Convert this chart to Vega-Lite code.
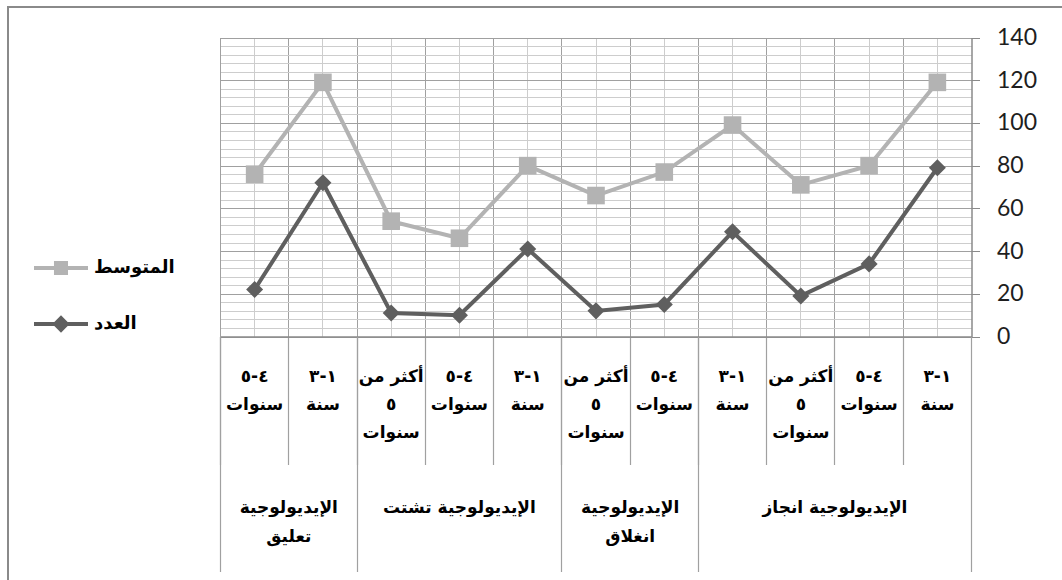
{
  "$schema": "https://vega.github.io/schema/vega-lite/v6.json",
  "width": 1070,
  "height": 590,
  "autosize": {"type": "none"},
  "padding": {"left": 8, "top": 7, "right": -16, "bottom": -17},
  "background": "#ffffff",
  "config": {
    "view": {"stroke": "#8a8a8a", "strokeWidth": 2},
    "axis": {"labelColor": "#000000"}
  },
  "data": {
    "values": [
      {"cat": "01|٤-٥|سنوات", "group": "الإيديولوجية تعليق", "series": "المتوسط", "value": 76},
      {"cat": "02|١-٣|سنة", "group": "الإيديولوجية تعليق", "series": "المتوسط", "value": 119},
      {"cat": "03|أكثر من|٥|سنوات", "group": "الإيديولوجية تشتت", "series": "المتوسط", "value": 54},
      {"cat": "04|٤-٥|سنوات", "group": "الإيديولوجية تشتت", "series": "المتوسط", "value": 46},
      {"cat": "05|١-٣|سنة", "group": "الإيديولوجية تشتت", "series": "المتوسط", "value": 80},
      {"cat": "06|أكثر من|٥|سنوات", "group": "الإيديولوجية انغلاق", "series": "المتوسط", "value": 66},
      {"cat": "07|٤-٥|سنوات", "group": "الإيديولوجية انغلاق", "series": "المتوسط", "value": 77},
      {"cat": "08|١-٣|سنة", "group": "الإيديولوجية انجاز", "series": "المتوسط", "value": 99},
      {"cat": "09|أكثر من|٥|سنوات", "group": "الإيديولوجية انجاز", "series": "المتوسط", "value": 71},
      {"cat": "10|٤-٥|سنوات", "group": "الإيديولوجية انجاز", "series": "المتوسط", "value": 80},
      {"cat": "11|١-٣|سنة", "group": "الإيديولوجية انجاز", "series": "المتوسط", "value": 119},
      {"cat": "01|٤-٥|سنوات", "group": "الإيديولوجية تعليق", "series": "العدد", "value": 22},
      {"cat": "02|١-٣|سنة", "group": "الإيديولوجية تعليق", "series": "العدد", "value": 72},
      {"cat": "03|أكثر من|٥|سنوات", "group": "الإيديولوجية تشتت", "series": "العدد", "value": 11},
      {"cat": "04|٤-٥|سنوات", "group": "الإيديولوجية تشتت", "series": "العدد", "value": 10},
      {"cat": "05|١-٣|سنة", "group": "الإيديولوجية تشتت", "series": "العدد", "value": 41},
      {"cat": "06|أكثر من|٥|سنوات", "group": "الإيديولوجية انغلاق", "series": "العدد", "value": 12},
      {"cat": "07|٤-٥|سنوات", "group": "الإيديولوجية انغلاق", "series": "العدد", "value": 15},
      {"cat": "08|١-٣|سنة", "group": "الإيديولوجية انجاز", "series": "العدد", "value": 49},
      {"cat": "09|أكثر من|٥|سنوات", "group": "الإيديولوجية انجاز", "series": "العدد", "value": 19},
      {"cat": "10|٤-٥|سنوات", "group": "الإيديولوجية انجاز", "series": "العدد", "value": 34},
      {"cat": "11|١-٣|سنة", "group": "الإيديولوجية انجاز", "series": "العدد", "value": 79}
    ]
  },
  "layer": [
    {
      "transform": [{"filter": {"field": "series", "equal": "المتوسط"}}],
      "mark": {"type": "line", "strokeWidth": 4, "color": "#b3b3b3"},
      "encoding": {
        "x": {
          "field": "cat", "type": "ordinal",
          "scale": {"type": "band", "domain": ["01|٤-٥|سنوات", "02|١-٣|سنة", "03|أكثر من|٥|سنوات", "04|٤-٥|سنوات", "05|١-٣|سنة", "06|أكثر من|٥|سنوات", "07|٤-٥|سنوات", "08|١-٣|سنة", "09|أكثر من|٥|سنوات", "10|٤-٥|سنوات", "11|١-٣|سنة"], "range": [212.5, 963.5], "paddingInner": 0, "paddingOuter": 0},
          "axis": {
            "orient": "top", "offset": 0, "title": null, "bandPosition": 0,
            "labels": false, "ticks": false, "domain": false,
            "grid": true, "gridColor": "#a0a0a0", "gridWidth": 1
          }
        },
        "y": {
          "field": "value", "type": "quantitative",
          "scale": {"domain": [0, 140], "range": [329.5, 30.5], "nice": false, "zero": true},
          "axis": {
            "orient": "left", "offset": 0, "title": null,
            "values": [0, 20, 40, 60, 80, 100, 120, 140],
            "labels": false, "ticks": false, "domain": false,
            "grid": true, "gridColor": "#a0a0a0", "gridWidth": 1
          }
        }
      }
    },
    {
      "transform": [{"filter": {"field": "series", "equal": "العدد"}}],
      "mark": {"type": "line", "strokeWidth": 4, "color": "#5f5f5f"},
      "encoding": {
        "x": {
          "field": "cat", "type": "ordinal",
          "scale": {"type": "band", "domain": ["01|٤-٥|سنوات", "02|١-٣|سنة", "03|أكثر من|٥|سنوات", "04|٤-٥|سنوات", "05|١-٣|سنة", "06|أكثر من|٥|سنوات", "07|٤-٥|سنوات", "08|١-٣|سنة", "09|أكثر من|٥|سنوات", "10|٤-٥|سنوات", "11|١-٣|سنة"], "range": [212.5, 963.5], "paddingInner": 0, "paddingOuter": 0},
          "axis": {
            "orient": "top", "offset": 0, "title": null, "bandPosition": 0.5,
            "labels": false, "ticks": false, "domain": false,
            "grid": true, "gridColor": "#cdcdcd", "gridWidth": 1
          }
        },
        "y": {
          "field": "value", "type": "quantitative",
          "scale": {"domain": [0, 140], "range": [329.5, 30.5], "nice": false, "zero": true},
          "axis": {
            "orient": "left", "offset": 0, "title": null,
            "values": [4, 8, 12, 16, 24, 28, 32, 36, 44, 48, 52, 56, 64, 68, 72, 76, 84, 88, 92, 96, 104, 108, 112, 116, 124, 128, 132, 136],
            "labels": false, "ticks": false, "domain": false,
            "grid": true, "gridColor": "#cdcdcd", "gridWidth": 1
          }
        }
      }
    },
    {
      "transform": [{"filter": {"field": "series", "equal": "المتوسط"}}],
      "mark": {"type": "point", "shape": "square", "filled": true, "opacity": 1, "size": 310, "color": "#b3b3b3"},
      "encoding": {
        "x": {
          "field": "cat", "type": "ordinal",
          "scale": {"type": "band", "domain": ["01|٤-٥|سنوات", "02|١-٣|سنة", "03|أكثر من|٥|سنوات", "04|٤-٥|سنوات", "05|١-٣|سنة", "06|أكثر من|٥|سنوات", "07|٤-٥|سنوات", "08|١-٣|سنة", "09|أكثر من|٥|سنوات", "10|٤-٥|سنوات", "11|١-٣|سنة"], "range": [212.5, 963.5], "paddingInner": 0, "paddingOuter": 0},
          "axis": {
            "orient": "bottom", "offset": -260.5, "title": null, "bandPosition": 0,
            "labels": false, "grid": false,
            "domain": true, "domainColor": "#8a8a8a", "domainWidth": 1.5,
            "ticks": true, "tickSize": 128, "tickColor": "#a0a0a0", "tickWidth": 1.2
          }
        },
        "y": {
          "field": "value", "type": "quantitative",
          "scale": {"domain": [0, 140], "range": [329.5, 30.5], "nice": false, "zero": true},
          "axis": {
            "orient": "right", "offset": -106.5, "title": null,
            "values": [0, 20, 40, 60, 80, 100, 120, 140],
            "grid": false,
            "domain": true, "domainColor": "#8a8a8a", "domainWidth": 1.5,
            "ticks": true, "tickSize": 8, "tickColor": "#8a8a8a",
            "labelFont": "Lato", "labelFontSize": 23, "labelColor": "#1e1e1e", "labelPadding": 17
          }
        }
      }
    },
    {
      "transform": [{"filter": {"field": "series", "equal": "العدد"}}],
      "mark": {"type": "point", "shape": "diamond", "filled": true, "opacity": 1, "size": 290, "color": "#5f5f5f"},
      "encoding": {
        "x": {
          "field": "cat", "type": "ordinal",
          "scale": {"type": "band", "domain": ["01|٤-٥|سنوات", "02|١-٣|سنة", "03|أكثر من|٥|سنوات", "04|٤-٥|سنوات", "05|١-٣|سنة", "06|أكثر من|٥|سنوات", "07|٤-٥|سنوات", "08|١-٣|سنة", "09|أكثر من|٥|سنوات", "10|٤-٥|سنوات", "11|١-٣|سنة"], "range": [212.5, 963.5], "paddingInner": 0, "paddingOuter": 0},
          "axis": {
            "orient": "bottom", "offset": -260.5, "title": null, "bandPosition": 0.5,
            "ticks": false, "domain": false, "grid": false,
            "labelExpr": "slice(split(datum.value, '|'), 1)",
            "labelAngle": 0, "labelAlign": "center", "labelBaseline": "top",
            "labelPadding": 32, "labelLineHeight": 28, "labelLimit": 300, "labelOverlap": false,
            "labelFont": "DejaVu Sans", "labelFontWeight": "bold", "labelFontSize": 17
          }
        },
        "y": {
          "field": "value", "type": "quantitative",
          "scale": {"domain": [0, 140], "range": [329.5, 30.5], "nice": false, "zero": true},
          "axis": null
        }
      }
    },
    {
      "mark": {"type": "point", "opacity": 0},
      "encoding": {
        "x": {
          "field": "cat", "type": "ordinal",
          "scale": {"type": "band", "domain": ["01|٤-٥|سنوات", "02|١-٣|سنة", "03|أكثر من|٥|سنوات", "04|٤-٥|سنوات", "05|١-٣|سنة", "06|أكثر من|٥|سنوات", "07|٤-٥|سنوات", "08|١-٣|سنة", "09|أكثر من|٥|سنوات", "10|٤-٥|سنوات", "11|١-٣|سنة"], "range": [212.5, 963.5], "paddingInner": 0, "paddingOuter": 0},
          "axis": {
            "orient": "bottom", "offset": -260.5, "title": null, "bandPosition": 0,
            "values": ["01|٤-٥|سنوات", "03|أكثر من|٥|سنوات", "06|أكثر من|٥|سنوات", "08|١-٣|سنة"],
            "labels": false, "domain": false, "grid": false,
            "ticks": true, "tickSize": 235, "tickColor": "#a0a0a0", "tickWidth": 1.2
          }
        },
        "y": {
          "field": "value", "type": "quantitative",
          "scale": {"domain": [0, 140], "range": [329.5, 30.5], "nice": false, "zero": true},
          "axis": null
        }
      }
    },
    {
      "mark": {"type": "point", "opacity": 0},
      "encoding": {
        "x": {
          "field": "cat", "type": "ordinal",
          "scale": {"type": "band", "domain": ["01|٤-٥|سنوات", "02|١-٣|سنة", "03|أكثر من|٥|سنوات", "04|٤-٥|سنوات", "05|١-٣|سنة", "06|أكثر من|٥|سنوات", "07|٤-٥|سنوات", "08|١-٣|سنة", "09|أكثر من|٥|سنوات", "10|٤-٥|سنوات", "11|١-٣|سنة"], "range": [212.5, 963.5], "paddingInner": 0, "paddingOuter": 0},
          "axis": {
            "orient": "bottom", "offset": -260.5, "title": null, "bandPosition": 1,
            "values": ["11|١-٣|سنة"],
            "labels": false, "domain": false, "grid": false,
            "ticks": true, "tickSize": 235, "tickColor": "#a0a0a0", "tickWidth": 1.2
          }
        },
        "y": {
          "field": "value", "type": "quantitative",
          "scale": {"domain": [0, 140], "range": [329.5, 30.5], "nice": false, "zero": true},
          "axis": null
        }
      }
    },
    {
      "mark": {"type": "point", "opacity": 0},
      "encoding": {
        "x": {
          "field": "cat", "type": "ordinal",
          "scale": {"type": "band", "domain": ["01|٤-٥|سنوات", "02|١-٣|سنة", "03|أكثر من|٥|سنوات", "04|٤-٥|سنوات", "05|١-٣|سنة", "06|أكثر من|٥|سنوات", "07|٤-٥|سنوات", "08|١-٣|سنة", "09|أكثر من|٥|سنوات", "10|٤-٥|سنوات", "11|١-٣|سنة"], "range": [212.5, 963.5], "paddingInner": 0, "paddingOuter": 0},
          "axis": {
            "orient": "bottom", "offset": -260.5, "title": null, "bandPosition": 0.5,
            "values": ["02|١-٣|سنة", "07|٤-٥|سنوات", "10|٤-٥|سنوات"],
            "labelExpr": "slice(datum.value, 0, 2) == '02' ? ['الإيديولوجية', 'تعليق'] : slice(datum.value, 0, 2) == '07' ? ['الإيديولوجية', 'انغلاق'] : 'الإيديولوجية انجاز'",
            "labelOffset": -34.14,
            "ticks": false, "domain": false, "grid": false,
            "labelAngle": 0, "labelAlign": "center", "labelBaseline": "top",
            "labelPadding": 163, "labelLineHeight": 29, "labelLimit": 300, "labelOverlap": false,
            "labelFont": "DejaVu Sans", "labelFontWeight": "bold", "labelFontSize": 17
          }
        },
        "y": {
          "field": "value", "type": "quantitative",
          "scale": {"domain": [0, 140], "range": [329.5, 30.5], "nice": false, "zero": true},
          "axis": null
        }
      }
    },
    {
      "mark": {"type": "point", "opacity": 0},
      "encoding": {
        "x": {
          "field": "cat", "type": "ordinal",
          "scale": {"type": "band", "domain": ["01|٤-٥|سنوات", "02|١-٣|سنة", "03|أكثر من|٥|سنوات", "04|٤-٥|سنوات", "05|١-٣|سنة", "06|أكثر من|٥|سنوات", "07|٤-٥|سنوات", "08|١-٣|سنة", "09|أكثر من|٥|سنوات", "10|٤-٥|سنوات", "11|١-٣|سنة"], "range": [212.5, 963.5], "paddingInner": 0, "paddingOuter": 0},
          "axis": {
            "orient": "bottom", "offset": -260.5, "title": null, "bandPosition": 0.5,
            "values": ["04|٤-٥|سنوات"],
            "labelExpr": "'الإيديولوجية تشتت'",
            "ticks": false, "domain": false, "grid": false,
            "labelAngle": 0, "labelAlign": "center", "labelBaseline": "top",
            "labelPadding": 163, "labelLineHeight": 29, "labelLimit": 300, "labelOverlap": false,
            "labelFont": "DejaVu Sans", "labelFontWeight": "bold", "labelFontSize": 17
          }
        },
        "y": {
          "field": "value", "type": "quantitative",
          "scale": {"domain": [0, 140], "range": [329.5, 30.5], "nice": false, "zero": true},
          "axis": null
        }
      }
    },
    {
      "transform": [{"filter": "datum.value < 0"}],
      "mark": {"type": "point", "filled": true, "opacity": 1},
      "encoding": {
        "color": {
          "field": "series", "type": "nominal",
          "scale": {"domain": ["المتوسط", "العدد"], "range": ["#b3b3b3", "#5f5f5f"]},
          "legend": {
            "orient": "none", "legendX": 26, "legendY": 234, "direction": "vertical",
            "title": null, "padding": 0, "rowPadding": 20, "offset": 0,
            "symbolSize": 2916, "symbolStrokeWidth": 0, "symbolOpacity": 1, "labelOffset": 6,
            "labelFont": "DejaVu Sans", "labelFontWeight": "bold", "labelFontSize": 18, "labelColor": "#000000"
          }
        },
        "shape": {
          "field": "series", "type": "nominal",
          "scale": {"domain": ["المتوسط", "العدد"], "range": ["M-1,-0.075H1V0.075H-1ZM-0.26,-0.26H0.26V0.26H-0.26Z", "M-1,-0.075H1V0.075H-1ZM-0.32,0L0,-0.32L0.32,0L0,0.32Z"]},
          "legend": {
            "orient": "none", "legendX": 26, "legendY": 234, "direction": "vertical",
            "title": null, "padding": 0, "rowPadding": 20, "offset": 0,
            "symbolSize": 2916, "symbolStrokeWidth": 0, "symbolOpacity": 1, "labelOffset": 6,
            "labelFont": "DejaVu Sans", "labelFontWeight": "bold", "labelFontSize": 18, "labelColor": "#000000"
          }
        }
      }
    }
  ],
  "resolve": {"axis": {"x": "independent", "y": "independent"}}
}
